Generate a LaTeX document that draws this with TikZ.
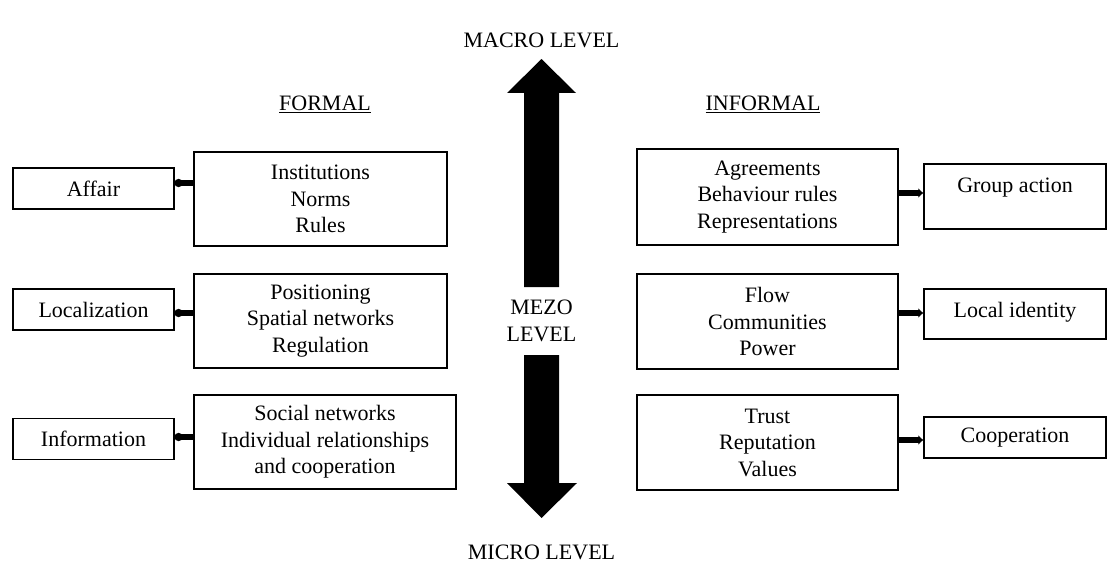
\documentclass[tikz,border=0pt]{standalone}
\usepackage{fontspec}
\setmainfont{Liberation Serif}
\usetikzlibrary{arrows.meta}
\begin{document}
\begin{tikzpicture}[x=1pt,y=-1pt,
  every node/.style={font=\fontsize{22}{26.5}\selectfont, inner sep=0pt},
  box/.style={draw, line width=1.1pt, align=center},
  bigbox/.style={box, minimum height=94},
  smallbox/.style={box, minimum width=161, minimum height=41},
  rsmallbox/.style={box, minimum width=182},
  lbl/.style={align=center},
  lconn/.style={line width=6pt, -{Circle[length=8pt,width=8pt]}},
  rconn/.style={line width=6pt, -{Latex[length=5pt,width=10pt]}},
  bigarrow/.style={fill=black, draw=none}
]
\useasboundingbox (0,0) rectangle (1114,567);

% headings
\node[lbl] (macro) at (541.5,40) {MACRO LEVEL};
\node[lbl] (mezo) at (541.5,321) {MEZO\\LEVEL};
\node[lbl] (micro) at (541.5,552) {MICRO LEVEL};
\node[lbl] (formal) at (325,104) {\underline{FORMAL}};
\node[lbl] (informal) at (763,104) {\underline{INFORMAL}};

% central double arrow
\fill[bigarrow] (541.5,59) -- (576,93) -- (559,93) -- (559,287) -- (524,287) -- (524,93) -- (507,93) -- cycle;
\fill[bigarrow] (524,355) -- (559,355) -- (559,483) -- (577,483) -- (541.5,518) -- (507,483) -- (524,483) -- cycle;

% left big boxes
\node[bigbox, minimum width=253] (inst) at (320.5,199) {Institutions\\Norms\\Rules};
\node[bigbox, minimum width=253] (posi) at (320.5,321) {Positioning\\Spatial networks\\Regulation};
\node[bigbox, minimum width=262] (soc) at (325,442) {Social networks\\Individual relationships\\and cooperation};

% left small boxes
\node[smallbox] (aff) at (93.5,188.5) {Affair};
\node[smallbox] (loc) at (93.5,309.5) {Localization};
\node[smallbox] (info) at (93.5,439) {Information};

% right big boxes
\node[bigbox, minimum width=261, minimum height=96] (agr) at (767.5,197) {Agreements\\Behaviour rules\\Representations};
\node[bigbox, minimum width=261, minimum height=95] (flow) at (767.5,321.5) {Flow\\Communities\\Power};
\node[bigbox, minimum width=261, minimum height=95] (trust) at (767.5,442.5) {Trust\\Reputation\\Values};

% right small boxes
\node[rsmallbox, minimum height=65, text depth=22pt] (grp) at (1015,196.5) {Group action};
\node[rsmallbox, minimum height=50, text depth=8pt] (lid) at (1015,314) {Local identity};
\node[rsmallbox, minimum height=41] (coop) at (1015,437.5) {Cooperation};

% connectors
\draw[lconn] ([yshift=5.5pt]aff.east -| inst.west) -- ([yshift=5.5pt]aff.east);
\draw[lconn] ([yshift=-3.5pt]loc.east -| posi.west) -- ([yshift=-3.5pt]loc.east);
\draw[lconn] ([yshift=2pt]info.east -| soc.west) -- ([yshift=2pt]info.east);
\draw[rconn] ([yshift=3.5pt]grp.west -| agr.east) -- ([yshift=3.5pt]grp.west);
\draw[rconn] ([yshift=1pt]lid.west -| flow.east) -- ([yshift=1pt]lid.west);
\draw[rconn] ([yshift=-2.5pt]coop.west -| trust.east) -- ([yshift=-2.5pt]coop.west);
\end{tikzpicture}
\end{document}
